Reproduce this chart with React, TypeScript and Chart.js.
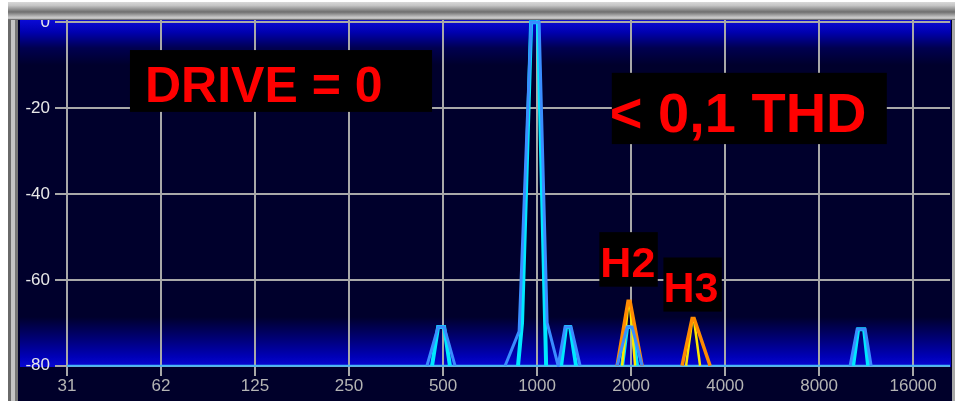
import React, { useEffect, useRef } from "react";
import { Chart, registerables } from "chart.js";

Chart.register(...registerables);

// ---- axis ticks ----
const X_TICKS = [31.25, 62.5, 125, 250, 500, 1000, 2000, 4000, 8000, 16000];
const X_TICK_LABELS = ["31", "62", "125", "250", "500", "1000", "2000", "4000", "8000", "16000"];
const Y_TICKS = [-80, -60, -40, -20, 0];

// ---- spectrum traces (frequency in Hz, level in dB) ----
const BASE_FREQ = [31.25, 21000];
const BASE_DB = [-80, -80];

const BLUE_FREQ = [444, 482, 504, 546, 700, 790, 876, 957, 1015, 1077, 1168, 1229, 1285, 1373, 1600, 1804, 1942, 2015, 2169, 6000, 10056, 10589, 11232, 11740];
const BLUE_DB = [-80, -71, -71, -80, null, -80, -72, 0, 0, -70, -80, -71, -71, -80, null, -80, -71, -71, -80, null, -80, -71.5, -71.5, -80];

const CYAN_FREQ = [461, 482, 504, 526, 700, 869, 895, 957, 1007, 1069, 1150, 1194, 1238, 1276, 1333, 1600, 1872, 1942, 2015, 2090, 6000, 10280, 10667, 11149, 11482];
const CYAN_DB = [-80, -71, -71, -80, null, -80, -70, 0, 0, -80, null, -80, -71, -71, -80, null, -80, -71, -71, -80, null, -80, -71.5, -71.5, -80];

const ORANGE_FREQ = [1804, 1956, 1985, 2169, 2500, 2913, 3137, 3183, 3581];
const ORANGE_DB = [-80, -65, -65, -80, null, -80, -69, -69, -80];

const YELLOW_FREQ = [1872, 1956, 1985, 2060, 2500, 3000, 3137, 3183, 3326];
const YELLOW_DB = [-80, -66, -66, -80, null, -80, -69.5, -69.5, -80];

// ---- annotation texts ----
const NOTE_TEXTS = ["DRIVE = 0", "< 0,1 THD", "H2", "H3"];

// layout / style (kept apart from data)
const X_MIN = 28.6;
const X_MAX = 21000;
const Y_MIN = -80.3;
const Y_MAX = 0.5;
const NOTE_BOXES = [
  { f1: 49.7, f2: 461, db1: -6.5, db2: -20.9, size: 50, padL: 15, padB: 10 },
  { f1: 1735, f2: 13179, db1: -11.8, db2: -28.4, size: 56, padL: -2, padB: 12 },
  { f1: 1583, f2: 2435, db1: -48.9, db2: -61.6, size: 43, padL: 1, padB: 10 },
  { f1: 2538, f2: 3904, db1: -54.8, db2: -67.4, size: 43, padL: 0, padB: 10 },
];

const TICK_FONT = { family: "'Liberation Sans', Arial, sans-serif", size: 17 };

function pts(fs: number[], dbs: (number | null)[]) {
  return fs.map((f, i) => ({ x: f, y: dbs[i] }));
}

function drawTopFrame(ctx: CanvasRenderingContext2D, w: number) {
  const g = ctx.createLinearGradient(0, 2, 0, 20);
  g.addColorStop(0, "#d8d8d8");
  g.addColorStop(0.2, "#c4c4c4");
  g.addColorStop(0.55, "#6e6e6e");
  g.addColorStop(0.8, "#b8b8b8");
  g.addColorStop(0.9, "#d0d0d0");
  g.addColorStop(1, "#505050");
  ctx.fillStyle = g;
  ctx.fillRect(8, 2, w - 8, 18);
}

const bgPlugin = {
  id: "bgPlugin",
  beforeDraw(chart: any) {
    const { ctx, width, height, chartArea } = chart;
    const yScale = chart.scales.y;
    ctx.save();
    ctx.fillStyle = "#ffffff";
    ctx.fillRect(0, 0, width, height);
    // grey frame
    ctx.fillStyle = "#8a8a8a";
    ctx.fillRect(8, 2, width - 8, height - 2);
    ctx.fillStyle = "#6a6a6a";
    ctx.fillRect(8, 2, 3, height - 2);
    ctx.fillStyle = "#c4c4c4";
    ctx.fillRect(11, 2, 4, height - 2);
    ctx.fillStyle = "#777777";
    ctx.fillRect(15, 2, 3, height - 2);
    ctx.fillStyle = "#a8a8a8";
    ctx.fillRect(width - 3, 2, 3, height - 2);
    drawTopFrame(ctx, width);
    // dark navy inner panel
    ctx.fillStyle = "#00002a";
    ctx.fillRect(18, 18, width - 3 - 18, height - 18);
    // plot gradient
    const left = yScale.left;
    const top = chartArea.top;
    const bottom = chartArea.bottom;
    const right = chartArea.right + 1;
    const g = ctx.createLinearGradient(0, top, 0, bottom);
    const h = bottom - top;
    g.addColorStop(0, "#0a0ad6");
    g.addColorStop(12 / h, "#0000b0");
    g.addColorStop(28 / h, "#000050");
    g.addColorStop(45 / h, "#00002c");
    g.addColorStop((h - 50) / h, "#00002c");
    g.addColorStop((h - 30) / h, "#000070");
    g.addColorStop((h - 10) / h, "#0000b8");
    g.addColorStop(1, "#0808d4");
    ctx.fillStyle = g;
    ctx.fillRect(left, top, right - left, bottom - top);
    ctx.restore();
  },
  afterDatasetsDraw(chart: any) {
    const { ctx } = chart;
    const xs = chart.scales.x;
    const ys = chart.scales.y;
    ctx.save();
    NOTE_BOXES.forEach((b, i) => {
      const x1 = xs.getPixelForValue(b.f1);
      const x2 = xs.getPixelForValue(b.f2);
      const y1 = ys.getPixelForValue(b.db1);
      const y2 = ys.getPixelForValue(b.db2);
      ctx.fillStyle = "#000000";
      ctx.fillRect(x1, y1, x2 - x1, y2 - y1);
      ctx.fillStyle = "#ff0000";
      ctx.font = `bold ${b.size}px 'Liberation Sans', Arial, sans-serif`;
      ctx.textAlign = "left";
      ctx.textBaseline = "alphabetic";
      ctx.fillText(NOTE_TEXTS[i], x1 + b.padL, y2 - b.padB);
    });
    ctx.restore();
  },
  afterDraw(chart: any) {
    const { ctx, width } = chart;
    ctx.save();
    drawTopFrame(ctx, width);
    ctx.restore();
  },
};

export default function App() {
  const ref = useRef<HTMLCanvasElement | null>(null);

  useEffect(() => {
    if (!ref.current) return;
    const lineDs = (label: string, data: any[], color: string, width: number) => ({
      label,
      data,
      showLine: true,
      borderColor: color,
      backgroundColor: color,
      borderWidth: width,
      pointRadius: 0,
      tension: 0,
      spanGaps: false,
      borderJoinStyle: "miter" as const,
    });
    const chart = new Chart(ref.current, {
      type: "scatter",
      data: {
        datasets: [
          lineDs("peak", pts(BLUE_FREQ, BLUE_DB), "#3a8cff", 3),
          lineDs("H orange", pts(ORANGE_FREQ, ORANGE_DB), "#ff8a00", 3.5),
          lineDs("H yellow", pts(YELLOW_FREQ, YELLOW_DB), "#ffe800", 2.5),
          lineDs("live", pts(CYAN_FREQ, CYAN_DB), "#00e8ff", 4),
          lineDs("floor", pts(BASE_FREQ, BASE_DB), "#46b8f6", 2),
        ],
      },
      options: {
        responsive: false,
        animation: false,
        layout: { padding: { left: 20, top: 20, right: 5, bottom: 0 } },
        plugins: { legend: { display: false }, tooltip: { enabled: false } },
        scales: {
          x: {
            type: "logarithmic",
            min: X_MIN,
            max: X_MAX,
            afterBuildTicks: (s: any) => {
              s.ticks = X_TICKS.map((v) => ({ value: v }));
            },
            afterFit: (s: any) => {
              s.height = 34;
              s.paddingLeft = 0;
              s.paddingRight = 0;
            },
            grid: { color: "#a8a8a8", lineWidth: 2, tickLength: 9, drawTicks: true },
            border: { display: false },
            ticks: {
              callback: (_v: any, i: number) => X_TICK_LABELS[i],
              color: "#b4b4b4",
              font: TICK_FONT,
              padding: 0,
              maxRotation: 0,
              minRotation: 0,
              autoSkip: false,
            },
          },
          y: {
            type: "linear",
            min: Y_MIN,
            max: Y_MAX,
            afterBuildTicks: (s: any) => {
              s.ticks = Y_TICKS.map((v) => ({ value: v }));
            },
            afterFit: (s: any) => {
              s.width = 35;
              s.paddingTop = 0;
              s.paddingBottom = 0;
            },
            grid: { color: "#a8a8a8", lineWidth: 2, drawTicks: false },
            border: { display: false },
            ticks: {
              color: "#e8e8e8",
              font: TICK_FONT,
              padding: 5,
              callback: (v: any) => String(v),
            },
          },
        },
      },
      plugins: [bgPlugin],
    });
    return () => chart.destroy();
  }, []);

  return (
    <div style={{ position: "fixed", left: 0, top: 0, width: 955, height: 401 }}>
      <canvas ref={ref} width={955} height={401} style={{ display: "block" }} />
    </div>
  );
}
